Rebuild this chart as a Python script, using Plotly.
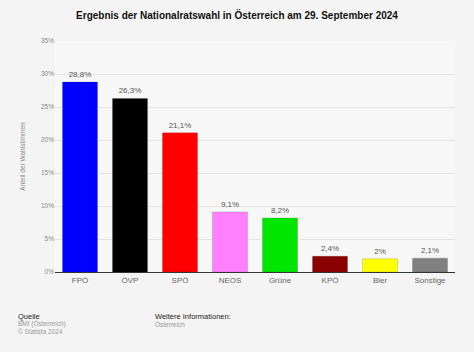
import plotly.graph_objects as go

parties = ["FPÖ", "ÖVP", "SPÖ", "NEOS", "Grüne", "KPÖ", "Bier", "Sonstige"]
shares = [28.8, 26.3, 21.1, 9.1, 8.2, 2.4, 2.0, 2.1]
labels = ["28,8%", "26,3%", "21,1%", "9,1%", "8,2%", "2,4%", "2%", "2,1%"]
colors = ["#0000ff", "#000000", "#ff0000", "#ff80ff", "#00e600", "#8b0000", "#ffff00", "#808080"]
ytick_vals = [0, 5, 10, 15, 20, 25, 30, 35]
ytick_text = ["0%", "5%", "10%", "15%", "20%", "25%", "30%", "35%"]

fig = go.Figure()
fig.add_trace(go.Bar(
    x=parties, y=shares, text=labels, textposition="outside",
    textfont=dict(size=8, color="#555555"),
    marker=dict(color=colors, line=dict(color="rgba(0,0,0,0.25)", width=0.5)),
    width=0.7, cliponaxis=False,
))

footer = [
    ("Quelle", 16, 316, "#222222", 7.5),
    ("BMI (Österreich)", 16, 324, "#999999", 6.5),
    ("© Statista 2024", 16, 331, "#999999", 6.5),
    ("Weitere Informationen:", 153, 316, "#222222", 7.5),
    ("Österreich", 153, 324, "#999999", 6.5),
]
anns = []
for t, px, py, c, s in footer:
    anns.append(dict(text=t, x=(px - 55) / 400, y=(352 - 80 - py) / 231,
                     xref="paper", yref="paper", xanchor="left", yanchor="middle",
                     showarrow=False, font=dict(size=s, color=c)))

fig.update_layout(
    width=474, height=352,
    paper_bgcolor="#f4f4f4", plot_bgcolor="#f7f7f7",
    margin=dict(l=55, r=19, t=41, b=80),
    font=dict(family="Liberation Sans, Arial, sans-serif"),
    showlegend=False,
    title=dict(text="<b>Ergebnis der Nationalratswahl in Österreich am 29. September 2024</b>",
               x=0.5, xanchor="center", y=0.955, yanchor="middle",
               font=dict(size=10, color="#111111")),
    xaxis=dict(showgrid=False, showline=True, linecolor="#333333", linewidth=1,
               tickfont=dict(size=8, color="#666666"), ticks=""),
    yaxis=dict(range=[0, 35], tickvals=ytick_vals, ticktext=ytick_text,
               tickfont=dict(size=6.5, color="#888888"),
               gridcolor="#e4e4e4", zeroline=False, ticks="",
               title=dict(text="Anteil der Wahlstimmen", font=dict(size=6.5, color="#888888"), standoff=14)),
    annotations=anns,
)

fig.write_html("out.html")
